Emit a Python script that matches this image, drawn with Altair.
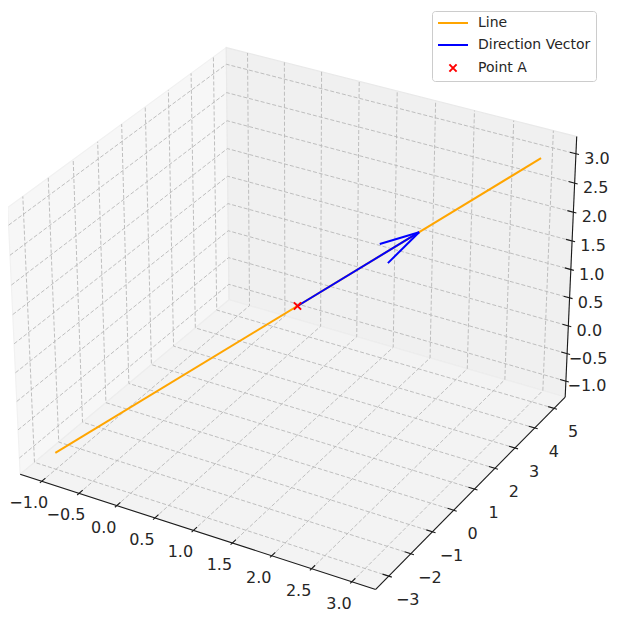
import numpy as np
import pandas as pd
import altair as alt

# ---------------- data ----------------
point_a = [1.0, 1.0, 1.0]
direction = [1.0, 2.0, 1.0]
line_t = [-2.0, 2.0]
x_ticks = [-1.0, -0.5, 0.0, 0.5, 1.0, 1.5, 2.0, 2.5, 3.0]
y_ticks = [-3, -2, -1, 0, 1, 2, 3, 4, 5]
z_ticks = [-1.0, -0.5, 0.0, 0.5, 1.0, 1.5, 2.0, 2.5, 3.0]
series_names = ["Line", "Direction Vector", "Point A"]
series_colors = ["orange", "blue", "red"]

# ---------------- view (matplotlib 3D default camera) ----------------
ELEV, AZIM = 30.0, -60.0
BOX_ASPECT = np.array([4.0, 4.0, 3.0])
DIST = 10.0
W, H = 601, 605
OX, OY, SX, SY = 297.5, 306.0, 3565.0, 3550.0
FONT = "DejaVu Sans"
TXT = "#262626"

A = np.array(point_a)
Dv = np.array(direction)
line_pts = np.array([A + t * Dv for t in line_t])
lo_data, hi_data = line_pts.min(0), line_pts.max(0)
rng = hi_data - lo_data
lim_lo, lim_hi = lo_data - 0.05 * rng, hi_data + 0.05 * rng
lr = lim_hi - lim_lo
box_lo, box_hi = lim_lo - lr / 48, lim_hi + lr / 48
box_rng = box_hi - box_lo

ba = BOX_ASPECT * 1.8294640721620434 / np.linalg.norm(BOX_ASPECT)
Rc = 0.5 * ba
e, a = np.deg2rad(ELEV), np.deg2rad(AZIM)
ps = np.array([np.cos(e) * np.cos(a), np.cos(e) * np.sin(a), np.sin(e)])
eye = Rc + DIST * ps
wv = (eye - Rc) / np.linalg.norm(eye - Rc)
uv = np.cross([0.0, 0.0, 1.0], wv)
uv /= np.linalg.norm(uv)
vv = np.cross(wv, uv)


def proj(p):
    P = (np.asarray(p, dtype=float) - box_lo) / box_rng * ba
    d = P - eye
    depth = -np.dot(wv, d)
    return float(np.dot(uv, d) / depth), float(np.dot(vv, d) / depth)


xmin, ymin, zmin = box_lo
xmax, ymax, zmax = box_hi

xs = alt.Scale(domain=[-(OX - 8) / SX, (W - (OX - 8)) / SX], nice=False, zero=False)
ys = alt.Scale(domain=[((OY - 8) - H) / SY, (OY - 8) / SY], nice=False, zero=False)
X = lambda f="tx": alt.X(f"{f}:Q", scale=xs, axis=None)
Y = lambda f="ty": alt.Y(f"{f}:Q", scale=ys, axis=None)


def polyframe(polys):
    rows = []
    for gid, pts in enumerate(polys):
        for i, p in enumerate(pts):
            tx, ty = proj(p)
            rows.append({"g": gid, "i": i, "tx": tx, "ty": ty})
    return pd.DataFrame(rows)


def line_layer(polys, **kw):
    return alt.Chart(polyframe(polys)).mark_line(**kw).encode(
        x=X(), y=Y(), detail="g:N", order="i:Q")


# panes
pane_x = [(xmin, ymin, zmin), (xmin, ymax, zmin), (xmin, ymax, zmax), (xmin, ymin, zmax), (xmin, ymin, zmin)]
pane_y = [(xmin, ymax, zmin), (xmax, ymax, zmin), (xmax, ymax, zmax), (xmin, ymax, zmax), (xmin, ymax, zmin)]
pane_z = [(xmin, ymin, zmin), (xmax, ymin, zmin), (xmax, ymax, zmin), (xmin, ymax, zmin), (xmin, ymin, zmin)]
panes = []
for poly, col, edge in [(pane_x, "#f7f7f7", "#f1f1f1"), (pane_y, "#f0f0f0", "#e9e9e9"), (pane_z, "#f3f3f3", "#ededed")]:
    panes.append(line_layer([poly], fill=col, stroke=edge, strokeWidth=1.2))

# grid lines
grid = []
for t in x_ticks:
    grid.append([(t, ymin, zmin), (t, ymax, zmin), (t, ymax, zmax)])
for t in y_ticks:
    grid.append([(xmax, t, zmin), (xmin, t, zmin), (xmin, t, zmax)])
for t in z_ticks:
    grid.append([(xmin, ymin, t), (xmin, ymax, t), (xmax, ymax, t)])
grid_layer = line_layer(grid, stroke="#b8b8b8", strokeWidth=0.9, strokeDash=[4, 2])

# axis lines
axes_lines = [
    [(xmin, ymin, zmin), (xmax, ymin, zmin)],
    [(xmax, ymin, zmin), (xmax, ymax, zmin)],
    [(xmax, ymax, zmin), (xmax, ymax, zmax)],
]
axis_layer = line_layer(axes_lines, stroke="#1a1a1a", strokeWidth=1.1)

# tick marks
dlt = box_rng / 12
tick_rows = []
for t in x_ticks:
    tick_rows.append((proj((t, ymin - 0.1 * dlt[1], zmin)), proj((t, ymin + 0.2 * dlt[1], zmin))))
for t in y_ticks:
    tick_rows.append((proj((xmax + 0.1 * dlt[0], t, zmin)), proj((xmax - 0.2 * dlt[0], t, zmin))))
for t in z_ticks:
    tick_rows.append((proj((xmax + 0.1 * dlt[0], ymax, t)), proj((xmax - 0.2 * dlt[0], ymax, t))))
ticks_df = pd.DataFrame([{"tx": p[0], "ty": p[1], "tx2": q[0], "ty2": q[1]} for p, q in tick_rows])
tick_layer = alt.Chart(ticks_df).mark_rule(color="#1a1a1a", strokeWidth=1.1).encode(
    x=X(), y=Y(), x2="tx2:Q", y2="ty2:Q")


def fmt(v, dec):
    s = f"{abs(v):.{dec}f}"
    return ("\u2212" + s) if v < 0 else s


def label_layer(pts, texts, dx, dy):
    df = pd.DataFrame([{"tx": proj(p)[0], "ty": proj(p)[1], "lab": s} for p, s in zip(pts, texts)])
    return alt.Chart(df).mark_text(font=FONT, fontSize=16, color=TXT, align="center",
                                   baseline="middle", dx=dx, dy=dy).encode(x=X(), y=Y(), text="lab:N")


xl = label_layer([(t, ymin, zmin) for t in x_ticks], [fmt(t, 1) for t in x_ticks], -13, 22)
yl = label_layer([(xmax, t, zmin) for t in y_ticks], [fmt(t, 0) for t in y_ticks], 19, 24)
zl = label_layer([(xmax, ymax, t) for t in z_ticks], [fmt(t, 1) for t in z_ticks], 21, 5)

# data: line
line_layer_main = line_layer([[tuple(p) for p in line_pts]], stroke=series_colors[0], strokeWidth=2)

# quiver (matplotlib style arrow head)
tip = A + Dv
nxy = np.linalg.norm(Dv[:2])
x_p, y_p = Dv[1] / nxy, -Dv[0] / nxy
c, s = np.cos(np.radians(15)), np.sin(np.radians(15))
r13, r32, r12 = y_p * s, x_p * s, x_p * y_p * (1 - c)
Rpos = np.array([[c + x_p ** 2 * (1 - c), r12, r13],
                 [r12, c + y_p ** 2 * (1 - c), -r32],
                 [-r13, r32, c]])
Rneg = np.array([[c + x_p ** 2 * (1 - c), r12, -r13],
                 [r12, c + y_p ** 2 * (1 - c), r32],
                 [r13, -r32, c]])
h1 = tip - 0.3 * Rpos @ Dv
h2 = tip - 0.3 * Rneg @ Dv
vec_layer = line_layer([[tuple(A), tuple(tip)], [tuple(tip), tuple(h1)], [tuple(tip), tuple(h2)]],
                       stroke=series_colors[1], strokeWidth=2)

X_PATH = "M-0.6,-0.6L0.6,0.6M-0.6,0.6L0.6,-0.6"
LINE_PATH = "M-2.5,0L2.5,0"
pa = proj(A)
pt_layer = alt.Chart(pd.DataFrame({"tx": [pa[0]], "ty": [pa[1]]})).mark_point(
    shape=X_PATH, size=144, stroke=series_colors[2], strokeWidth=2, filled=False, opacity=1
).encode(x=X(), y=Y())

# legend-only layer
leg_df = pd.DataFrame({"series": series_names})
legend_layer = alt.Chart(leg_df).mark_point(filled=False, strokeWidth=2, size=144, opacity=1).encode(
    color=alt.Color("series:N", scale=alt.Scale(domain=series_names, range=series_colors),
                    legend=alt.Legend(title=None)),
    shape=alt.Shape("series:N", scale=alt.Scale(domain=series_names, range=[LINE_PATH, LINE_PATH, X_PATH]),
                    legend=alt.Legend(title=None)),
).transform_filter("false")

chart = alt.layer(
    *panes, grid_layer, axis_layer, tick_layer, xl, yl, zl,
    line_layer_main, vec_layer, pt_layer, legend_layer
).properties(
    width=W, height=H, padding=0, autosize=alt.AutoSizeParams(type="none"), background="white"
).configure_view(stroke=None).configure_legend(
    orient="none", legendX=424, legendY=3, padding=5, rowPadding=8,
    symbolOffset=9, labelOffset=18, labelFont=FONT, labelFontSize=14, labelColor=TXT,
    strokeColor="#cccccc", fillColor="white", cornerRadius=3,
    symbolStrokeWidth=2, symbolSize=144
)

chart.save("out.html", embed_options={"renderer": "svg", "actions": False})
